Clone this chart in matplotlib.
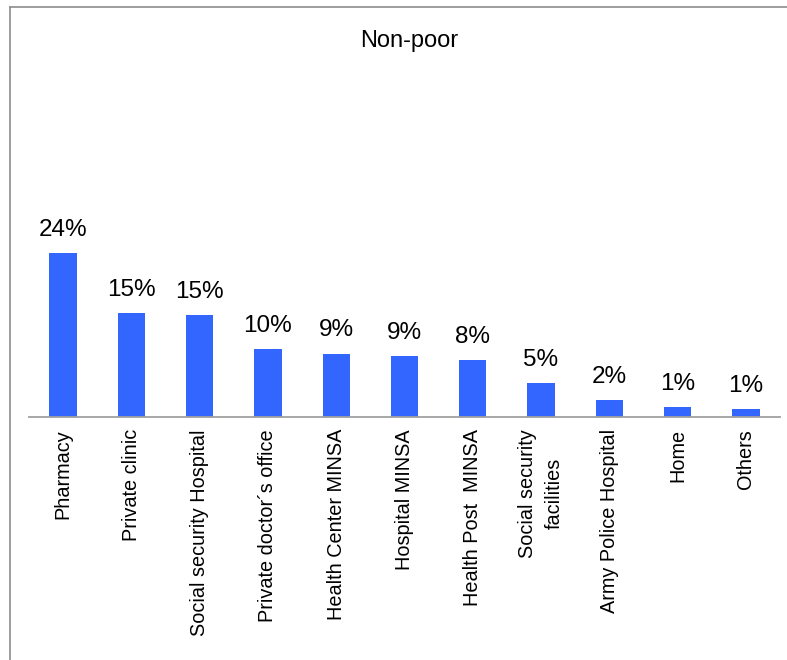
import matplotlib
matplotlib.use("Agg")
import matplotlib.pyplot as plt
from matplotlib.lines import Line2D

plt.rcParams['font.family'] = ['Liberation Sans', 'DejaVu Sans']

# Where the non-poor go for care (share of visits, %)
places = ["Pharmacy", "Private clinic", "Social security Hospital",
          "Private doctor\u00b4s office", "Health Center MINSA", "Hospital MINSA",
          "Health Post  MINSA", "Social security\nfacilities", "Army Police Hospital",
          "Home", "Others"]
shares = [24.0, 15.2, 14.9, 9.9, 9.2, 8.9, 8.3, 4.9, 2.4, 1.4, 1.1]

W, H = 787, 660
fig = plt.figure(figsize=(W / 100, H / 100), dpi=100)

# plot area in pixels: left 29, right 780, baseline at 416.5
base = 416.5
px_per_pct = 6.81
ymax = 30
ax = fig.add_axes([29 / W, (H - base) / H, (780 - 29) / W, ymax * px_per_pct / H])

x = range(len(places))
bars = ax.bar(x, shares, width=0.4, color="#3366FF")
ax.set_xlim(-0.5, len(places) - 0.5)
ax.set_ylim(0, ymax)

for b, v in zip(bars, shares):
    ax.annotate(f"{v:.0f}%", (b.get_x() + b.get_width() / 2, v),
                xytext=(0, 12.5), textcoords="offset points",
                ha="center", va="baseline", fontsize=17.5, color="black")

ax.set_xticks(list(x))
ax.set_xticklabels(places, rotation=90, fontsize=14.3, va="top", ha="center",
                   multialignment="center", linespacing=1.55)
ax.tick_params(axis="x", length=0, pad=9)
ax.set_yticks([])
for side in ["left", "right", "top"]:
    ax.spines[side].set_visible(False)
ax.spines["bottom"].set_color("#a0a0a0")
ax.spines["bottom"].set_linewidth(1.3)

fig.text(409 / W, 1 - 41 / H, "Non-poor", ha="center", va="center", fontsize=17)

# outer chart frame (left and top edges)
fig.add_artist(Line2D([10 / W, 10 / W], [0, 1 - 6.5 / H], transform=fig.transFigure,
                      color="#8c8c8c", linewidth=1.2))
fig.add_artist(Line2D([10 / W, 1], [1 - 6.5 / H, 1 - 6.5 / H], transform=fig.transFigure,
                      color="#8c8c8c", linewidth=1.2))

fig.savefig("out.png", dpi=100, facecolor="white")
